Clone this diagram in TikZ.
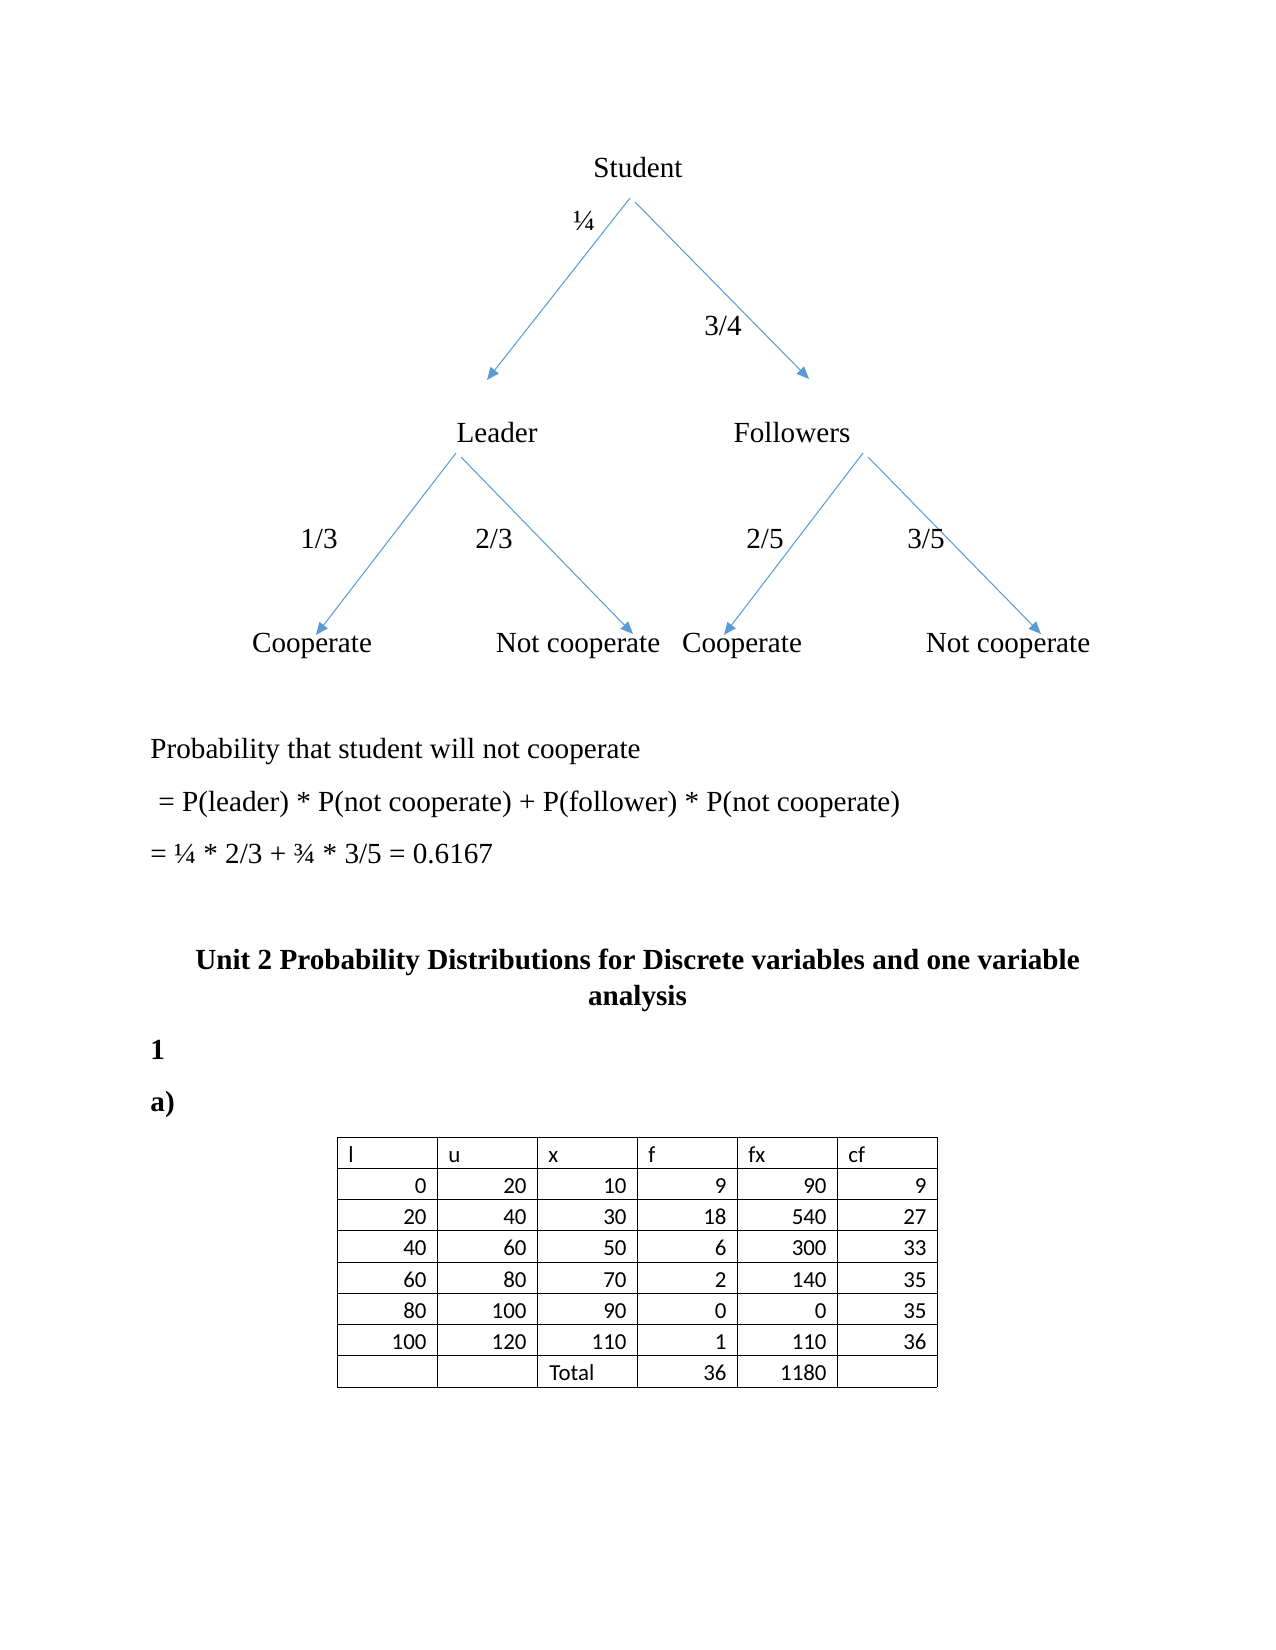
\documentclass[tikz,border=0pt]{standalone}
\usepackage{fontspec}
\setmainfont{Liberation Serif}
\newfontfamily\tablefont{Carlito}
\usepackage{xcolor}
\usetikzlibrary{arrows.meta}
\definecolor{branchblue}{HTML}{5B9BD5}

\tikzset{
  treetext/.style={font=\fontsize{14}{17}\selectfont, inner sep=0pt},
  bodytext/.style={font=\fontsize{14}{17}\selectfont, inner sep=0pt, anchor=west},
  headtext/.style={font=\fontsize{14}{17.3}\selectfont\bfseries, inner sep=0pt, align=center},
  branch/.style={draw=branchblue, line width=0.5pt, -{Triangle[length=6pt,width=5pt]}},
  cell/.style={font=\tablefont\fontsize{11}{13}\selectfont, inner sep=0pt},
}

\begin{document}
\begin{tikzpicture}[x=0.48pt, y=-0.48pt]
  \useasboundingbox (0,0) rectangle (1275,1650);

  % probability tree
  \node[treetext] (student) at (638,168) {Student};
  \node[treetext] (leader) at (497,433) {Leader};
  \node[treetext] (followers) at (792,433) {Followers};
  \node[treetext] (coopL) at (312,646) {Cooperate};
  \node[treetext] (notL) at (578,646) {Not cooperate};
  \node[treetext] (coopR) at (742,646) {Cooperate};
  \node[treetext] (notR) at (1008,646) {Not cooperate};

  \draw[branch] ([shift={(-8,30)}]student.center) -- ([shift={(-10,-53)}]leader.center);
  \draw[branch] ([shift={(-3,34)}]student.center) -- ([shift={(17,-54)}]followers.center);
  \draw[branch] ([shift={(-41,20)}]leader.center) -- ([shift={(4,-11)}]coopL.center);
  \draw[branch] ([shift={(-36,24)}]leader.center) -- ([shift={(55,-12)}]notL.center);
  \draw[branch] ([shift={(71,20)}]followers.center) -- ([shift={(-18,-11)}]coopR.center);
  \draw[branch] ([shift={(76,24)}]followers.center) -- ([shift={(33,-12)}]notR.center);

  \node[treetext] (pLeader) at (584,221) {¼};
  \node[treetext] (pFollow) at (723,326) {3/4};
  \node[treetext] (pLC) at (319,539) {1/3};
  \node[treetext] (pLN) at (494,539) {2/3};
  \node[treetext] (pFC) at (765,539) {2/5};
  \node[treetext] (pFN) at (926,539) {3/5};

  % working
  \node[bodytext] (question) at (150,752) {Probability that student will not cooperate};
  \node[bodytext] (formula) at (158,804) {= P(leader) * P(not cooperate) + P(follower) * P(not cooperate)};
  \node[bodytext] (answer) at (150,854) {= ¼ * 2/3 + ¾ * 3/5 = 0.6167};

  % unit heading
  \node[headtext] (unit) at (637.5,980) {Unit 2 Probability Distributions for Discrete variables and one variable\\analysis};
  \node[headtext, anchor=west] (qnum) at (150,1050) {1};
  \node[headtext, anchor=west] (qpart) at (150,1104) {a)};

  % frequency table
  \foreach \i in {0,...,6}
    \draw[line width=0.4pt] (337+100*\i,1137) -- (337+100*\i,1387);
  \foreach \j in {0,...,8}
    \draw[line width=0.4pt] (337,1137+31.25*\j) -- (937,1137+31.25*\j);

  \foreach \h [count=\c from 0] in {l,u,x,f,fx,cf}
    \node[cell, anchor=base west] (head\c) at (348+100*\c,1162) {\h};

  \foreach \a/\b/\x/\f/\fx/\cf [count=\k] in {0/20/10/9/90/9, 20/40/30/18/540/27, 40/60/50/6/300/33, 60/80/70/2/140/35, 80/100/90/0/0/35, 100/120/110/1/110/36} {
    \node[cell, anchor=base east] (r\k a) at (427,1162+31.25*\k) {\a};
    \node[cell, anchor=base east] (r\k b) at (527,1162+31.25*\k) {\b};
    \node[cell, anchor=base east] (r\k c) at (627,1162+31.25*\k) {\x};
    \node[cell, anchor=base east] (r\k d) at (727,1162+31.25*\k) {\f};
    \node[cell, anchor=base east] (r\k e) at (827,1162+31.25*\k) {\fx};
    \node[cell, anchor=base east] (r\k f) at (927,1162+31.25*\k) {\cf};
  }
  \node[cell, anchor=base west] (total) at (549,1380.75) {Total};
  \node[cell, anchor=base east] (totalf) at (727,1380.75) {36};
  \node[cell, anchor=base east] (totalfx) at (827,1380.75) {1180};
\end{tikzpicture}
\end{document}
